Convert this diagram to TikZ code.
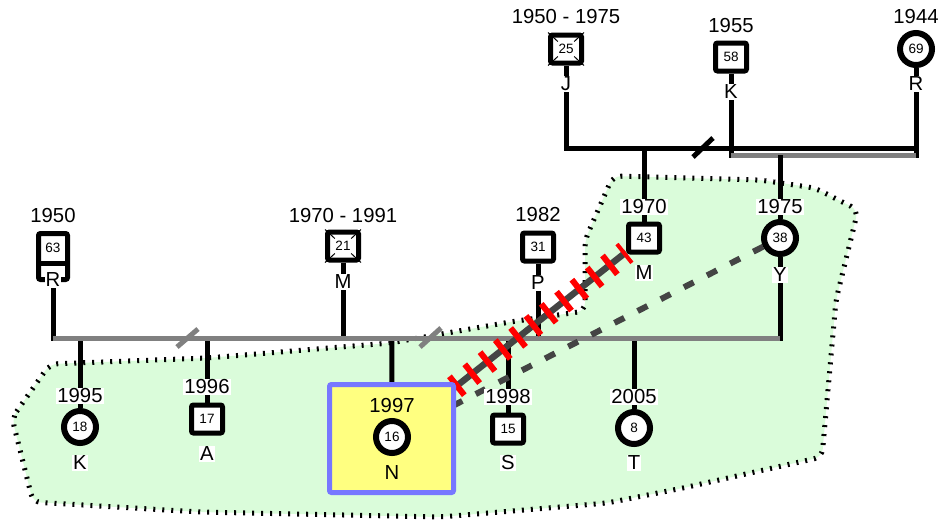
\documentclass[tikz,border=0pt]{standalone}
\usepackage{fontspec}
\setmainfont{Liberation Sans}
\pgfdeclarelayer{bg}
\pgfdeclarelayer{lines}
\pgfdeclarelayer{rel}
\pgfsetlayers{bg,lines,rel,main}
\definecolor{grn}{RGB}{218,252,218}
\definecolor{gline}{RGB}{128,128,128}
\definecolor{dgray}{RGB}{68,68,68}
\definecolor{yel}{RGB}{255,255,128}
\definecolor{blu}{RGB}{119,119,255}
\definecolor{hred}{RGB}{255,0,0}
\newcommand{\labfont}{\fontsize{20.3}{21}\selectfont}
\newcommand{\agefont}{\fontsize{13.5}{14}\selectfont}
\tikzset{
 sq/.style={draw, line width=5pt, fill=white, minimum width=31pt, minimum height=28pt, rounded corners=2pt, inner sep=0pt, font=\agefont},
 circ/.style={circle, draw, line width=6pt, fill=white, minimum size=32pt, inner sep=0pt, font=\agefont},
 lab/.style={fill=white, inner sep=1pt, font=\labfont},
 agelab/.style={inner sep=0.5pt, font=\agefont},
 bk/.style={line width=5pt, black},
 gy/.style={line width=5pt, gline},
 xl/.style={line width=1pt, shorten >=11pt},
}
\begin{document}
\begin{tikzpicture}[x=1pt,y=-1pt]
\useasboundingbox (0,0) rectangle (941,520);

% ---------- top generation ----------
\node[sq] (J) at (566,49) {};
\draw[xl] (J.north west) -- (J.center);
\draw[xl] (J.north east) -- (J.center);
\draw[xl] (J.south west) -- (J.center);
\draw[xl] (J.south east) -- (J.center);
\node[agelab] at (J) {25};
\node[lab] at (566,17) {1950 - 1975};
\node[lab] at (566,84) {J};

\node[sq] (K) at (731,57) {58};
\node[lab] at (731,26) {1955};
\node[lab] at (731,92) {K};

\node[circ] (R) at (916,49) {69};
\node[lab] at (916,17) {1944};
\node[lab] at (916,84) {R};

% ---------- middle generation ----------
\node[draw, line width=5pt, fill=white, minimum width=29pt, minimum height=46pt, rounded corners=2pt, inner sep=0pt] (Rm) at (53,256.5) {};
\draw[line width=5pt] (38.5,263) -- (67.5,263);
\node[font=\agefont, inner sep=0pt] at (53,248) {63};
\node[lab] at (53,216) {1950};
\node[lab] at (53,280) {R};

\node[sq] (M1) at (343,246) {};
\draw[xl] (M1.north west) -- (M1.center);
\draw[xl] (M1.north east) -- (M1.center);
\draw[xl] (M1.south west) -- (M1.center);
\draw[xl] (M1.south east) -- (M1.center);
\node[agelab] at (M1) {21};
\node[lab] at (343,216) {1970 - 1991};
\node[lab] at (343,282) {M};

\node[sq] (P) at (538,247) {31};
\node[lab] at (538,215) {1982};
\node[lab] at (538,283) {P};

\node[sq] (M2) at (644,238) {43};
\node[lab] at (644,207) {1970};
\node[lab] at (644,273) {M};

\node[circ] (Y) at (780,238) {38};
\node[lab] at (780,207) {1975};
\node[lab] at (780,275) {Y};

% ---------- children ----------
\node[circ] (Kc) at (80,427) {18};
\node[lab] at (80,396) {1995};
\node[lab] at (80,463) {K};

\node[sq] (A) at (207,419) {17};
\node[lab] at (207,387) {1996};
\node[lab] at (207,454) {A};

\node[draw=blu, fill=yel, line width=5pt, minimum width=124pt, minimum height=108pt, rounded corners=2pt] (Nbox) at (391.5,438.5) {};
\node[circ] (Nc) at (392,437) {16};
\node[font=\labfont, inner sep=1pt] at (392,406) {1997};
\node[font=\labfont, inner sep=1pt] at (392,473) {N};

\node[sq] (S) at (508,429) {15};
\node[lab] at (508,397) {1998};
\node[lab] at (508,463) {S};

\node[circ] (T) at (634,428) {8};
\node[lab] at (634,397) {2005};
\node[lab] at (634,463) {T};

% ---------- background region ----------
\begin{pgfonlayer}{bg}
\draw[fill=grn, draw=black, line width=5pt, dash pattern=on 2pt off 7pt, rounded corners=8pt]
 (12,418) -- (50,364) -- (207,358) -- (390,343) -- (447,333) -- (510,322) -- (585,311)
 -- (585,240) -- (613,176) -- (760,180) -- (815,188) -- (858,210) -- (836,300)
 -- (822,457) -- (683,488) -- (607,503) -- (440,517) -- (200,512) -- (33,502) -- cycle;
\end{pgfonlayer}

% ---------- family lines ----------
\begin{pgfonlayer}{lines}
\coordinate (a1) at (566,148);
\coordinate (a2) at (916,148);
\draw[bk] (J) -- (a1) -- (a2);
\draw[bk] (R) -- (916,157.5);
\draw[bk] (K) -- (731,157.5);
\draw[gy] (731,155) -- (916,155);
\draw[bk] (M2|-a1) -- (M2);
\draw[bk] (780,155) -- (Y);
\draw[bk] (693,157) -- (713,138);

\coordinate (b1) at (53,338);
\coordinate (b2) at (780,338);
\draw[bk] (Rm) -- (53,340.5);
\draw[bk] (M1) -- (M1|-b1);
\draw[bk] (P) -- (P|-b1);
\draw[bk] (Y) -- (780,340.5);
\draw[bk] (Kc|-b1) -- (Kc);
\draw[bk] (A|-b1) -- (A);
\draw[bk] (Nc|-b1) -- (Nbox);
\draw[bk] (S|-b1) -- (S);
\draw[bk] (T|-b1) -- (T);
\draw[gy] (b1) -- (b2);
\draw[gy] (177,347) -- (198,329);
\draw[gy] (420,347) -- (441,328);
\end{pgfonlayer}

% ---------- emotional relationships ----------
\begin{pgfonlayer}{rel}
\draw[line width=6.5pt, dgray] (M2) -- (Nc);
\draw[hred, line width=24pt, dash pattern=on 6pt off 13.5pt, dash phase=2pt] (M2) -- (Nc);
\draw[line width=6pt, dgray, dash pattern=on 11pt off 15pt] (Y) -- (Nc);
\end{pgfonlayer}
\end{tikzpicture}
\end{document}
